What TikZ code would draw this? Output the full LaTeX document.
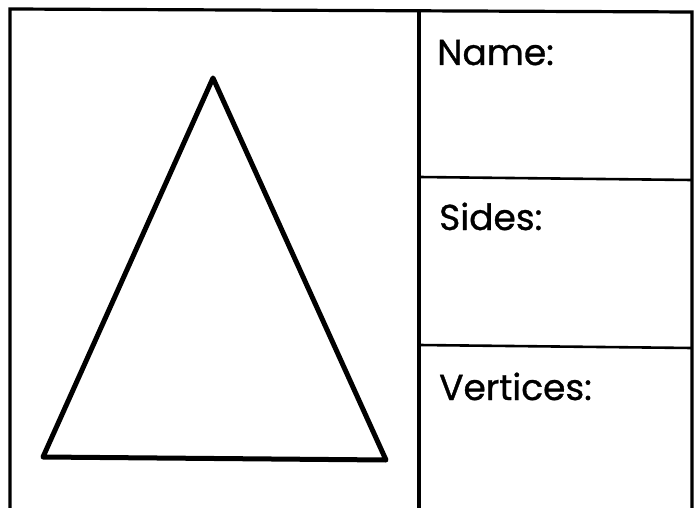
\documentclass[tikz,border=0pt]{standalone}
\usepackage{fontspec}
\newfontfamily\labelfont{Poppins}[FakeBold=0.9]

\begin{document}
\begin{tikzpicture}[
  x=1pt, y=-1pt,
  frame/.style={draw, line width=3.2pt},
  divider/.style={draw, line width=2.6pt},
  figure/.style={draw, line width=5pt, line join=round},
  label/.style={anchor=base west, inner sep=0pt, font=\labelfont\fontsize{36}{42}\selectfont}
]
    \useasboundingbox (0,0) rectangle (699,508);

    % frame
    \coordinate (tl) at (10,9);
    \coordinate (tr) at (692,12);
    \coordinate (bl) at (10,508);
    \coordinate (br) at (692,508);
    \coordinate (mt) at (419,10);
    \coordinate (mb) at (419,508);
    \path [frame] (bl) -- (tl) -- (tr) -- (br);
    \path [frame] (mt) -- (mb);

    % rows
    \coordinate (r1l) at (419,177);
    \coordinate (r1r) at (692,180);
    \coordinate (r2l) at (419,345);
    \coordinate (r2r) at (692,348);
    \path [divider] (r1l) -- (r1r);
    \path [divider] (r2l) -- (r2r);

    \node [label] (name) at (437,65) {Name:};
    \node [label] (sides) at (439,230) {Sides:};
    \node [label] (vertices) at (439,400) {Vertices:};

    % triangle
    \coordinate (apex) at (213,78);
    \coordinate (left) at (43,457);
    \coordinate (right) at (386,460);
    \path [figure] (apex) -- (left) -- (right) -- cycle;
\end{tikzpicture}
\end{document}
